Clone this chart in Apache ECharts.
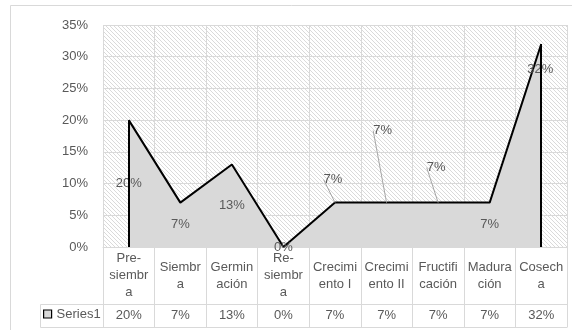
<!DOCTYPE html>
<html>
<head>
<meta charset="utf-8">
<script src="https://cdn.jsdelivr.net/npm/echarts@6/dist/echarts.min.js"></script>
<style>
  html, body { margin: 0; padding: 0; background: #fff; }
  #chart { width: 572px; height: 330px; }
</style>
</head>
<body>
<div id="chart"></div>
<script>
// Stage labels as they wrap in the table cells
const stageLabels = ['Pre-\nsiembr\na', 'Siembr\na', 'Germin\nación', 'Re-\nsiembr\na',
  'Crecimi\nento I', 'Crecimi\nento II', 'Fructifi\ncación', 'Madura\nción', 'Cosech\na'];
const seriesName = 'Series1';
// Share per stage, in percent
const values = [20, 7, 13, 0, 7, 7, 7, 7, 32];
// Value axis range
const yMin = 0, yMax = 35, yStep = 5;

const FONT = '"Liberation Sans", Arial, sans-serif';
const TEXT = '#595959';
const RULE = '#d9d9d9';

// Table geometry: plot bottom at 247, stage row and value row heights
const ROW1 = 57, ROW2 = 23;

// Labels dragged away from their default spot, as pixel offsets from the point
const movedLabels = { 4: [-2, -23], 5: [-4, -72], 6: [-2, -35], 8: [-1, 25] };
const withLeader = [4, 5, 6];

// Diagonal hatch used behind the plot
function hatchTile() {
  const c = document.createElement('canvas');
  c.width = c.height = 8;
  const g = c.getContext('2d');
  g.fillStyle = '#ffffff';
  g.fillRect(0, 0, 8, 8);
  g.fillStyle = '#dadada';
  for (let y = 0; y < 8; y++)
    for (let x = 0; x < 8; x++)
      if ((((x - y) % 4) + 4) % 4 === 0) g.fillRect(x, y, 1, 1);
  return c;
}

const chart = echarts.init(document.getElementById('chart'), null, { renderer: 'canvas' });

const labelText = { color: TEXT, fontSize: 13, fontFamily: FONT };
const tableTop = 247, rowLine = tableTop + ROW1, tableBottom = rowLine + ROW2;

chart.setOption({
  animation: false,
  grid: {
    left: 103, right: 5, top: 25, bottom: 330 - tableTop,
    show: true, borderWidth: 0,
    backgroundColor: { image: hatchTile(), repeat: 'repeat' }
  },
  legend: {
    left: 43, top: rowLine + ROW2 / 2 - 8, padding: 0, itemWidth: 8, itemHeight: 8,
    selectedMode: false,
    textStyle: labelText,
    data: [{ name: seriesName, icon: 'rect',
      itemStyle: { color: '#d9d9d9', borderColor: '#000', borderWidth: 1.2 } }]
  },
  xAxis: [{
    type: 'category', data: stageLabels, boundaryGap: true,
    axisLine: { show: true, lineStyle: { color: RULE } },
    axisTick: { show: true, interval: 0, length: ROW1, lineStyle: { color: RULE } },
    splitLine: { show: true, interval: 0, lineStyle: { color: RULE } },
    axisLabel: Object.assign({ interval: 0, margin: ROW1 / 2, verticalAlign: 'middle', lineHeight: 17 }, labelText)
  }, {
    type: 'category', data: values.map(v => v + '%'), boundaryGap: true,
    position: 'bottom', offset: ROW1,
    axisLine: { show: true, lineStyle: { color: RULE } },
    axisTick: { show: true, interval: 0, length: ROW2, lineStyle: { color: RULE } },
    axisLabel: Object.assign({ interval: 0, margin: ROW2 / 2, verticalAlign: 'middle' }, labelText)
  }],
  yAxis: {
    type: 'value', min: yMin, max: yMax, interval: yStep,
    axisLine: { show: false }, axisTick: { show: false },
    splitLine: { lineStyle: { color: RULE } },
    axisLabel: Object.assign({ margin: 15, formatter: '{value}%' }, labelText)
  },
  series: [{
    type: 'line', name: seriesName, xAxisIndex: 0,
    data: values.map((v, i) => withLeader.includes(i) ? { value: v, labelLine: { show: true } } : v),
    symbol: 'circle', symbolSize: 0, silent: true,
    itemStyle: { color: '#000' },
    lineStyle: { color: '#000', width: 2 },
    areaStyle: { color: '#d9d9d9', opacity: 1 },
    label: Object.assign({ show: true, formatter: '{c}%' }, labelText),
    labelLine: { show: false, lineStyle: { color: '#a6a6a6', width: 1 } },
    labelLayout: function (p) {
      const i = p.dataIndex;
      const pt = chart.convertToPixel({ xAxisIndex: 0, yAxisIndex: 0 }, [i, values[i]]);
      const mv = movedLabels[i];
      if (mv) {
        const lx = pt[0] + mv[0], ly = pt[1] + mv[1];
        const out = { x: lx, y: ly, align: 'center', verticalAlign: 'middle' };
        if (withLeader.includes(i)) out.labelLinePoints = [[lx, ly + 9], [pt[0], pt[1]]];
        return out;
      }
      const mid = chart.convertToPixel({ xAxisIndex: 0, yAxisIndex: 0 }, [i, values[i] / 2]);
      return { x: mid[0], y: mid[1], align: 'center', verticalAlign: 'middle' };
    },
    // closing edges of the filled area at both ends
    markLine: {
      silent: true, symbol: 'none', label: { show: false },
      lineStyle: { color: '#000', width: 2, type: 'solid' },
      emphasis: { disabled: true },
      data: [
        [{ coord: [0, 0] }, { coord: [0, values[0]] }],
        [{ coord: [values.length - 1, 0] }, { coord: [values.length - 1, values[values.length - 1]] }]
      ]
    }
  }],
  graphic: [
    { type: 'rect', silent: true, z: -1, shape: { x: 10.5, y: 5.5, width: 620, height: 400 },
      style: { fill: 'none', stroke: RULE, lineWidth: 1 } },
    { type: 'line', silent: true, shape: { x1: 40.5, y1: rowLine + 0.5, x2: 103, y2: rowLine + 0.5 }, style: { stroke: RULE, lineWidth: 1 } },
    { type: 'line', silent: true, shape: { x1: 40.5, y1: rowLine + 0.5, x2: 40.5, y2: tableBottom + 0.5 }, style: { stroke: RULE, lineWidth: 1 } },
    { type: 'line', silent: true, shape: { x1: 40.5, y1: tableBottom + 0.5, x2: 567.5, y2: tableBottom + 0.5 }, style: { stroke: RULE, lineWidth: 1 } }
  ]
});
</script>
</body>
</html>
